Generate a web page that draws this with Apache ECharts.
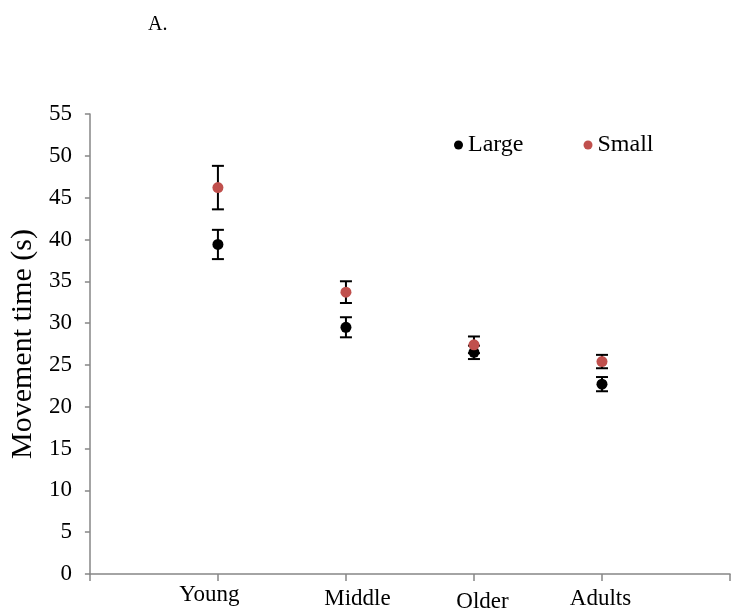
<!DOCTYPE html>
<html><head><meta charset="utf-8">
<script src="https://cdn.jsdelivr.net/npm/echarts@6/dist/echarts.min.js"></script>
<style>html,body{margin:0;padding:0;background:#fff}#c{width:733px;height:613px}</style>
</head><body><div id="c"></div>
<script>
const categories = ['Young', 'Middle', 'Older', 'Adults'];
const largeMeans = [39.4, 29.5, 26.5, 22.7];
const largeErrors = [1.75, 1.2, 0.8, 0.85];
const smallMeans = [46.2, 33.7, 27.4, 25.4];
const smallErrors = [2.6, 1.3, 1.0, 0.8];
const seriesNames = ['Large', 'Small'];
const yAxisName = 'Movement time (s)';
const panelLabel = 'A.';

// label nudges (style only): [padTop, padRight, padBottom, padLeft]
const labelPads = { c1: [0, 17, 0, 0], c2: [4, 0, 0, 23], c3: [7, 0, 0, 17], c4: [4, 3, 0, 0] };

const FONT = '"Liberation Serif", "Times New Roman", serif';
const pts = (means) => means.map((m, i) => [i + 1, m]);
const bars = (means, errs) => means.map((m, i) => [i + 1, m - errs[i], m + errs[i]]);

function errRender(params, api) {
  const x = api.value(0), lo = api.value(1), hi = api.value(2);
  const pLo = api.coord([x, lo]), pHi = api.coord([x, hi]);
  const hw = 6;
  const style = { stroke: '#000', lineWidth: 2 };
  return { type: 'group', children: [
    { type: 'line', shape: { x1: pLo[0], y1: pLo[1], x2: pHi[0], y2: pHi[1] }, style },
    { type: 'line', shape: { x1: pLo[0] - hw, y1: pLo[1], x2: pLo[0] + hw, y2: pLo[1] }, style },
    { type: 'line', shape: { x1: pHi[0] - hw, y1: pHi[1], x2: pHi[0] + hw, y2: pHi[1] }, style }
  ]};
}

const rich = {};
Object.keys(labelPads).forEach(k => {
  rich[k] = { fontFamily: FONT, fontSize: 23, color: '#000', padding: labelPads[k] };
});

const chart = echarts.init(document.getElementById('c'), null, { renderer: 'canvas' });
chart.setOption({
  animation: false,
  backgroundColor: '#fff',
  title: { text: panelLabel, left: 143, top: 10, textStyle: { fontFamily: FONT, fontSize: 20, fontWeight: 'normal', color: '#000' } },
  legend: {
    data: seriesNames, left: 449, top: 128, icon: 'circle', itemWidth: 9, itemHeight: 9, itemGap: 60,
    textStyle: { fontFamily: FONT, fontSize: 24, color: '#000' }
  },
  grid: { left: 86, right: 2, top: 114, bottom: 29, containLabel: false },
  xAxis: {
    type: 'value', min: 0, max: 5, interval: 1,
    axisLine: { lineStyle: { color: '#868686', width: 1.5 } },
    axisTick: { show: true, length: 7, lineStyle: { color: '#868686', width: 1.5 } },
    splitLine: { show: false },
    axisLabel: { fontFamily: FONT, fontSize: 23, color: '#000', margin: 9, rich: rich,
      formatter: v => (v >= 1 && v <= categories.length) ? '{c' + v + '|' + categories[v - 1] + '}' : '' }
  },
  yAxis: {
    type: 'value', min: 0, max: 55, interval: 5,
    name: yAxisName, nameLocation: 'middle', nameGap: 51, nameRotate: 90,
    nameTextStyle: { fontFamily: FONT, fontSize: 30, color: '#000' },
    axisLine: { show: true, lineStyle: { color: '#868686', width: 1.5 } },
    axisTick: { show: true, length: 5, lineStyle: { color: '#868686', width: 1.5 } },
    splitLine: { show: false },
    axisLabel: { fontFamily: FONT, fontSize: 23, color: '#000', margin: 18 }
  },
  series: [
    { type: 'custom', name: 'errL', renderItem: errRender, data: bars(largeMeans, largeErrors), encode: { x: 0, y: [1, 2] }, z: 1, silent: true },
    { type: 'custom', name: 'errS', renderItem: errRender, data: bars(smallMeans, smallErrors), encode: { x: 0, y: [1, 2] }, z: 1, silent: true },
    { type: 'scatter', name: seriesNames[0], data: pts(largeMeans), symbol: 'circle', symbolSize: 11, itemStyle: { color: '#000', opacity: 1 }, z: 3 },
    { type: 'scatter', name: seriesNames[1], data: pts(smallMeans), symbol: 'circle', symbolSize: 11, itemStyle: { color: '#C0504D', opacity: 1 }, z: 4 }
  ]
});
</script></body></html>
